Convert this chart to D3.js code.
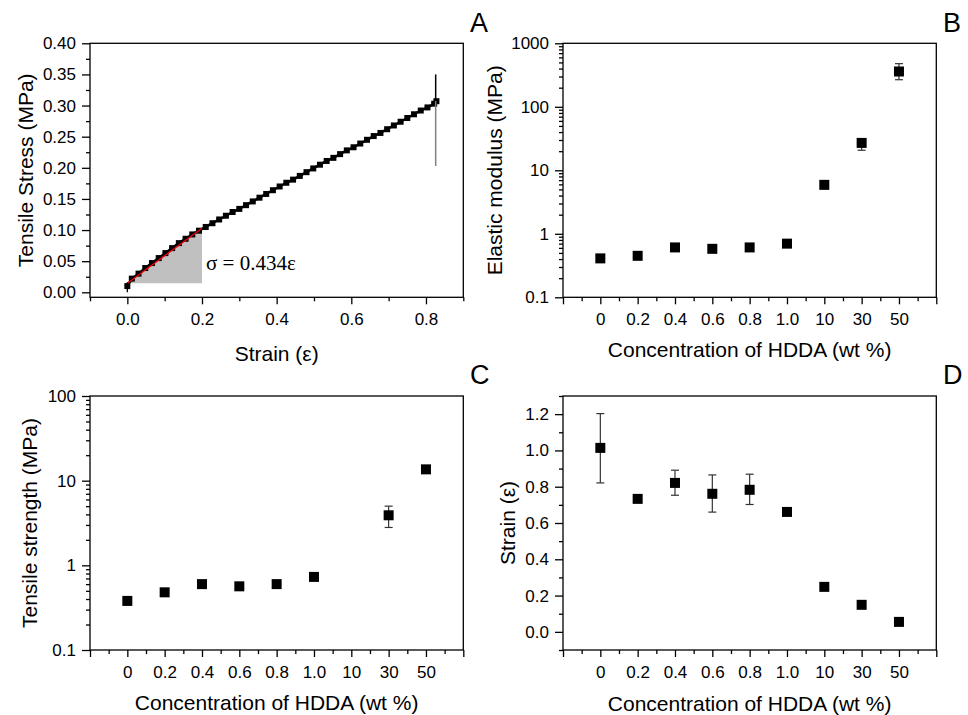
<!DOCTYPE html>
<html>
<head>
<meta charset="utf-8">
<script src="https://cdn.jsdelivr.net/npm/d3@7"></script>
<style>
body { margin: 0; background: #fff; }
svg { display: block; font-family: "Liberation Sans", Arial, sans-serif; }
.tick text { font-size: 17px; fill: #000; }
.tick line { stroke: #000; stroke-width: 1.3; }
</style>
</head>
<body>
<svg id="fig" width="968" height="715"></svg>
<script>
// ---- data ----
// A: stress-strain curve
const curveStrain = [0.000, 0.012, 0.030, 0.048, 0.066, 0.084, 0.102, 0.120, 0.138, 0.156, 0.174, 0.192,
  0.210, 0.228, 0.246, 0.264, 0.282, 0.300, 0.318, 0.336, 0.354, 0.372, 0.390, 0.408, 0.426, 0.444,
  0.462, 0.480, 0.498, 0.516, 0.534, 0.552, 0.570, 0.588, 0.606, 0.624, 0.642, 0.660, 0.678, 0.696,
  0.714, 0.732, 0.750, 0.768, 0.786, 0.804, 0.822, 0.828];
const curveStress = [0.010, 0.022, 0.030, 0.039, 0.047, 0.055, 0.063, 0.071, 0.079, 0.086, 0.093, 0.099,
  0.105, 0.111, 0.117, 0.123, 0.129, 0.134, 0.140, 0.146, 0.152, 0.158, 0.164, 0.170, 0.176, 0.181,
  0.187, 0.193, 0.199, 0.205, 0.211, 0.216, 0.222, 0.228, 0.233, 0.239, 0.245, 0.251, 0.256, 0.262,
  0.268, 0.274, 0.280, 0.286, 0.292, 0.297, 0.303, 0.307];
const fitStart = [0.0, 0.0145];
const fitEnd = [0.2, 0.103];
const breakBar = {strain: 0.826, top: 0.350, mid: 0.307, bottom: 0.203};
const originBar = {strain: 0.0, top: 0.016, bottom: 0.0};

// B, C, D: HDDA concentration series
const hddaLabels = ["0", "0.2", "0.4", "0.6", "0.8", "1.0", "10", "30", "50"];
const modulus     = [0.41, 0.45, 0.61, 0.58, 0.61, 0.70, 5.9, 27, 360];
const modulusLow  = [null, null, null, null, null, null, null, 20.7, 267];
const modulusHigh = [null, null, null, null, null, null, null, 31, 478];
const strength     = [0.38, 0.48, 0.60, 0.565, 0.60, 0.73, null, 3.9, 13.6];
const strengthLow  = [null, null, null, null, null, null, null, 2.8, null];
const strengthHigh = [null, null, null, null, null, null, null, 5.0, null];
const strainBreak = [1.014, 0.733, 0.821, 0.761, 0.783, 0.661, 0.248, 0.149, 0.055];
const strainLow   = [0.821, null, 0.753, 0.660, 0.702, null, null, null, null];
const strainHigh  = [1.203, null, 0.891, 0.865, 0.869, null, null, null, null];

// ---- layout ----
const W = 373.3, H = 254;
const svg = d3.select("#fig");

function panel(left, top) {
  const g = svg.append("g").attr("transform", `translate(${left},${top})`);
  return g;
}

function frame(g) {
  g.append("rect").attr("width", W).attr("height", H)
    .attr("fill", "none").attr("stroke", "#000").attr("stroke-width", 1.3);
}

function xAxis(g, x, major, minor, fmt) {
  g.append("g").attr("transform", `translate(0,${H})`)
    .call(d3.axisBottom(x).tickValues(minor).tickSize(4).tickSizeOuter(0).tickFormat(""))
    .call(a => a.select(".domain").remove());
  g.append("g").attr("transform", `translate(0,${H})`)
    .call(d3.axisBottom(x).tickValues(major).tickSize(7).tickSizeOuter(0).tickPadding(9).tickFormat(fmt))
    .call(a => a.select(".domain").remove());
}

function yAxis(g, y, major, minor, fmt) {
  g.append("g")
    .call(d3.axisLeft(y).tickValues(minor).tickSize(4).tickSizeOuter(0).tickFormat(""))
    .call(a => a.select(".domain").remove());
  g.append("g")
    .call(d3.axisLeft(y).tickValues(major).tickSize(8).tickSizeOuter(0).tickPadding(6).tickFormat(fmt))
    .call(a => a.select(".domain").remove());
}

function yTitle(g, text, x) {
  g.append("text").attr("transform", `translate(${x},${H / 2}) rotate(-90)`)
    .attr("text-anchor", "middle").attr("font-size", 21).text(text);
}

function xTitle(g, text, y) {
  g.append("text").attr("x", W / 2).attr("y", y)
    .attr("text-anchor", "middle").attr("font-size", 21).text(text);
}

function panelLetter(text, x, y) {
  svg.append("text").attr("x", x).attr("y", y).attr("font-size", 27).text(text);
}

function logMinor(lo, hi) {
  const t = [];
  for (let dec = lo; dec < hi; dec *= 10)
    for (let k = 2; k <= 9; k++) t.push(k * dec);
  return t;
}

const catX = d3.scaleLinear().domain([-1, 9]).range([0, W]);
const catMajor = d3.range(-1, 10);
const catMinor = d3.range(-0.5, 9, 1);
const catFmt = i => hddaLabels[i] || "";

function errorBars(g, y, low, high) {
  const idx = d3.range(low.length).filter(i => low[i] != null);
  const eg = g.append("g").attr("stroke", "#333").attr("stroke-width", 1.2);
  idx.forEach(i => {
    const cx = catX(i);
    eg.append("line").attr("x1", cx).attr("x2", cx).attr("y1", y(low[i])).attr("y2", y(high[i]));
    eg.append("line").attr("x1", cx - 4).attr("x2", cx + 4).attr("y1", y(low[i])).attr("y2", y(low[i]));
    eg.append("line").attr("x1", cx - 4).attr("x2", cx + 4).attr("y1", y(high[i])).attr("y2", y(high[i]));
  });
}

function squares(g, y, values) {
  const pts = values.map((v, i) => ({i, v})).filter(d => d.v != null);
  g.append("g").selectAll("rect").data(pts).join("rect")
    .attr("x", d => catX(d.i) - 5).attr("y", d => y(d.v) - 5)
    .attr("width", 10).attr("height", 10).attr("fill", "#000");
}

// ---- Panel A ----
{
  const g = panel(90, 43.3);
  const x = d3.scaleLinear().domain([-0.1, 0.9]).range([0, W]);
  const y = d3.scaleLinear().domain([-0.008, 0.40]).range([H, 0]);

  g.append("polygon")
    .attr("points", [[x(fitStart[0]), y(fitStart[1])], [x(fitEnd[0]), y(fitEnd[1])], [x(fitEnd[0]), y(fitStart[1])]].join(" "))
    .attr("fill", "#c0c0c0");

  const pts = curveStrain.map((s, i) => [s, curveStress[i]]);
  g.append("path").datum(pts)
    .attr("d", d3.line().x(d => x(d[0])).y(d => y(d[1])))
    .attr("fill", "none").attr("stroke", "#000").attr("stroke-width", 2.5);
  g.append("g").selectAll("rect").data(pts).join("rect")
    .attr("x", d => x(d[0]) - 3).attr("y", d => y(d[1]) - 3)
    .attr("width", 6).attr("height", 6).attr("fill", "#000");

  g.append("line")
    .attr("x1", x(fitStart[0])).attr("y1", y(fitStart[1]))
    .attr("x2", x(fitEnd[0])).attr("y2", y(fitEnd[1]))
    .attr("stroke", "#e8000b").attr("stroke-width", 1.4);

  g.append("line").attr("x1", x(originBar.strain)).attr("x2", x(originBar.strain))
    .attr("y1", y(originBar.bottom)).attr("y2", y(originBar.top))
    .attr("stroke", "#000").attr("stroke-width", 1.3);
  g.append("line").attr("x1", x(breakBar.strain)).attr("x2", x(breakBar.strain))
    .attr("y1", y(breakBar.mid)).attr("y2", y(breakBar.top))
    .attr("stroke", "#000").attr("stroke-width", 1.5);
  g.append("line").attr("x1", x(breakBar.strain)).attr("x2", x(breakBar.strain))
    .attr("y1", y(breakBar.bottom)).attr("y2", y(breakBar.mid))
    .attr("stroke", "#808080").attr("stroke-width", 1.5);

  g.append("text").attr("x", x(fitEnd[0]) + 4).attr("y", 226.7)
    .attr("font-family", "'Liberation Serif', 'Times New Roman', serif")
    .attr("font-size", 21).text("σ = 0.434ε");

  xAxis(g, x, [0, 0.2, 0.4, 0.6, 0.8], [-0.1, 0.1, 0.3, 0.5, 0.7, 0.9], d3.format(".1f"));
  yAxis(g, y, d3.range(0, 0.401, 0.05), d3.range(0.025, 0.4, 0.05), d3.format(".2f"));
  frame(g);
  yTitle(g, "Tensile Stress (MPa)", -57);
  xTitle(g, "Strain (ε)", 317.7);
  panelLetter("A", 470, 31.7);
}

// ---- Panel B ----
{
  const g = panel(563, 43.3);
  const y = d3.scaleLog().domain([0.1, 1000]).range([H, 0]);
  errorBars(g, y, modulusLow, modulusHigh);
  squares(g, y, modulus);
  xAxis(g, catX, catMajor, catMinor, catFmt);
  yAxis(g, y, [0.1, 1, 10, 100, 1000], logMinor(0.1, 1000), d => d < 1 ? "0.1" : String(d));
  frame(g);
  yTitle(g, "Elastic modulus (MPa)", -61);
  xTitle(g, "Concentration of HDDA (wt %)", 313.4);
  panelLetter("B", 943, 31.7);
}

// ---- Panel C ----
{
  const g = panel(90, 396);
  const y = d3.scaleLog().domain([0.1, 100]).range([H, 0]);
  errorBars(g, y, strengthLow, strengthHigh);
  squares(g, y, strength);
  xAxis(g, catX, catMajor, catMinor, catFmt);
  yAxis(g, y, [0.1, 1, 10, 100], logMinor(0.1, 100), d => d < 1 ? "0.1" : String(d));
  frame(g);
  yTitle(g, "Tensile strength (MPa)", -53);
  xTitle(g, "Concentration of HDDA (wt %)", 314.3);
  panelLetter("C", 470, 383.7);
}

// ---- Panel D ----
{
  const g = panel(563, 396);
  const y = d3.scaleLinear().domain([-0.1, 1.3]).range([H, 0]);
  errorBars(g, y, strainLow, strainHigh);
  squares(g, y, strainBreak);
  xAxis(g, catX, catMajor, catMinor, catFmt);
  yAxis(g, y, d3.range(0, 1.21, 0.2), d3.range(-0.1, 1.31, 0.2), d3.format(".1f"));
  frame(g);
  yTitle(g, "Strain (ε)", -48);
  xTitle(g, "Concentration of HDDA (wt %)", 315);
  panelLetter("D", 943, 383.7);
}
</script>
</body>
</html>
